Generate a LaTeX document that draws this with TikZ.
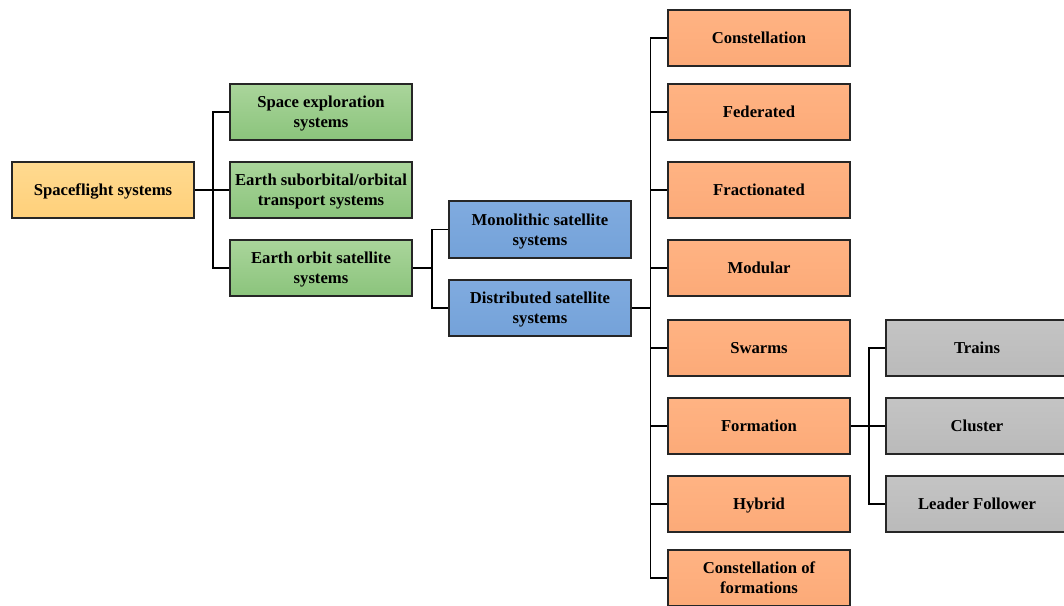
\documentclass[tikz,border=0pt]{standalone}
\usepackage{fontspec}
\setmainfont{Liberation Serif}
\usetikzlibrary{calc}
\definecolor{sunY}{HTML}{FFDA90}
\definecolor{sunYb}{HTML}{FFD07A}
\definecolor{leafG}{HTML}{AAD59B}
\definecolor{leafGb}{HTML}{8BC47C}
\definecolor{skyB}{HTML}{80ABDF}
\definecolor{skyBb}{HTML}{74A2D9}
\definecolor{peachO}{HTML}{FFB383}
\definecolor{peachOb}{HTML}{FCAA78}
\definecolor{stoneG}{HTML}{C4C4C4}
\definecolor{stoneGb}{HTML}{BABABA}
\definecolor{edge}{HTML}{262626}
\begin{document}
\begin{tikzpicture}[x=0.75pt,y=-0.75pt,
    box/.style={draw=edge,line width=1.4pt,minimum width=136.5pt,minimum height=42pt,
      inner sep=1pt,align=center,font=\fontsize{12.5}{15}\selectfont\bfseries,
      text depth=0pt},
    yellowbox/.style={box,top color=sunY,bottom color=sunYb},
    greenbox/.style={box,top color=leafG,bottom color=leafGb},
    bluebox/.style={box,top color=skyB,bottom color=skyBb,minimum width=137pt,minimum height=42.5pt},
    orangebox/.style={box,top color=peachO,bottom color=peachOb},
    graybox/.style={box,top color=stoneG,bottom color=stoneGb},
    link/.style={draw=black,line width=1.1pt}]
    \clip (0,0) rectangle (1064,606);
    \useasboundingbox (0,0) rectangle (1064,606);

    %Root
    \node[yellowbox] (Spaceflight) at (103,190) {Spaceflight systems};

    %Spaceflight classes
    \node[greenbox] (Exploration) at (321,112) {Space exploration\\systems};
    \node[greenbox] (Transport) at (321,190) {Earth suborbital/orbital\\transport systems};
    \node[greenbox] (Orbit) at (321,268) {Earth orbit satellite\\systems};

    %Satellite systems
    \node[bluebox] (Monolithic) at (540,229.5) {Monolithic satellite\\systems};
    \node[bluebox] (Distributed) at (540,308) {Distributed satellite\\systems};

    %Distributed types
    \node[orangebox] (Constellation) at (759,38) {Constellation};
    \node[orangebox] (Federated) at (759,112) {Federated};
    \node[orangebox] (Fractionated) at (759,190) {Fractionated};
    \node[orangebox] (Modular) at (759,268) {Modular};
    \node[orangebox] (Swarms) at (759,348) {Swarms};
    \node[orangebox] (Formation) at (759,426) {Formation};
    \node[orangebox] (Hybrid) at (759,504) {Hybrid};
    \node[orangebox] (ConstFormations) at (759,578) {Constellation of\\formations};

    %Formation types
    \node[graybox] (Trains) at (977,348) {Trains};
    \node[graybox] (Cluster) at (977,426) {Cluster};
    \node[graybox] (Leader) at (977,504) {Leader Follower};

    %Connectors
    \coordinate (JoinA) at ($(Spaceflight.east)+(18,0)$);
    \coordinate (JoinB) at ($(Orbit.east)+(19,0)$);
    \coordinate (JoinC) at ($(Distributed.east)+(18,0)$);
    \coordinate (JoinD) at ($(Formation.east)+(18,0)$);

    \draw[link] (Spaceflight.east) -- (JoinA);
    \foreach \n in {Exploration,Transport,Orbit}
      \draw[link] (JoinA) |- (\n.west);

    \draw[link] (Orbit.east) -- (JoinB);
    \foreach \n in {Monolithic,Distributed}
      \draw[link] (JoinB) |- (\n.west);

    \draw[link] (Distributed.east) -- (JoinC);
    \foreach \n in {Constellation,Federated,Fractionated,Modular,Swarms,Formation,Hybrid,ConstFormations}
      \draw[link] (JoinC) |- (\n.west);

    \draw[link,line width=1.6pt] (Formation.east) -- (JoinD);
    \foreach \n in {Trains,Cluster,Leader}
      \draw[link] (JoinD) |- (\n.west);
  \end{tikzpicture}
\end{document}
